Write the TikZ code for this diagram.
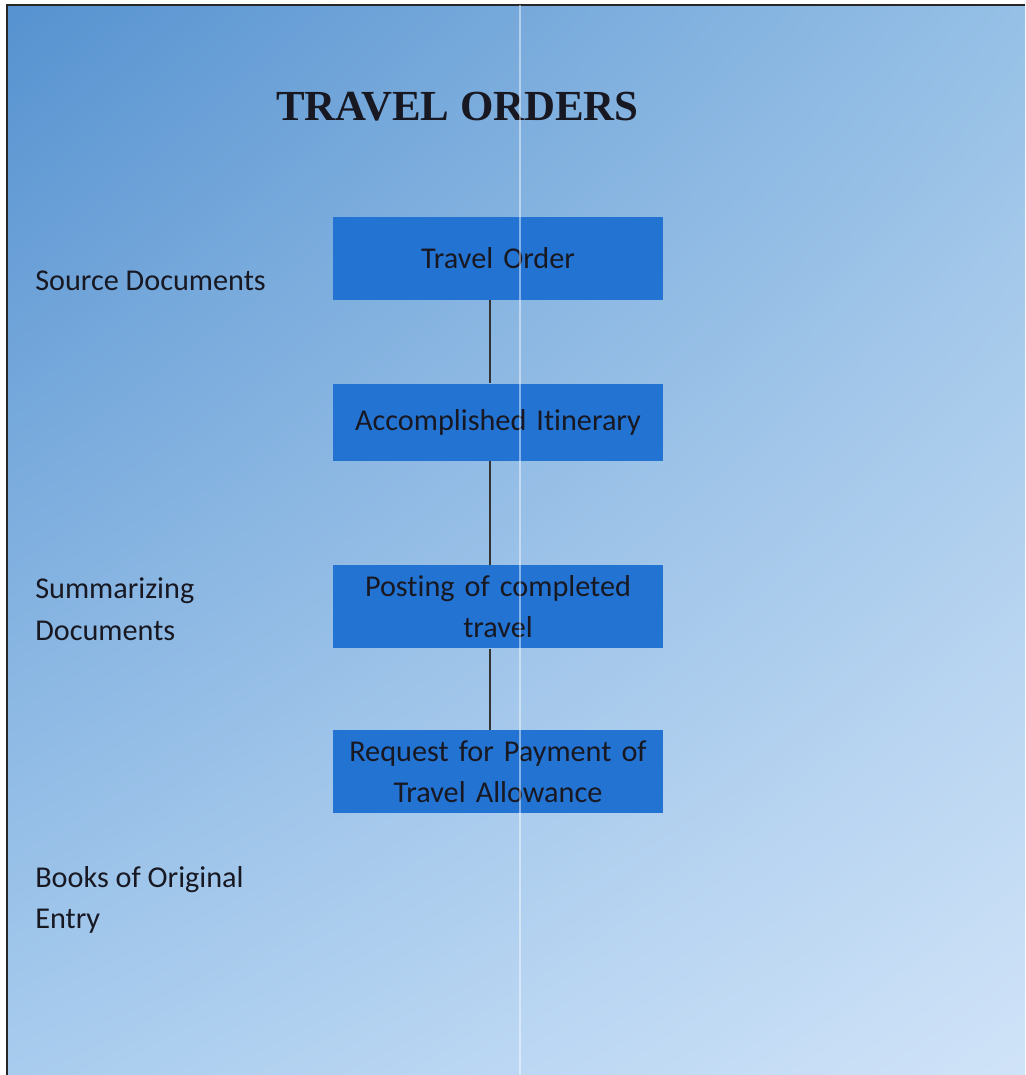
\documentclass[tikz,border=0pt]{standalone}
\usepackage{fontspec}
\setmainfont[Ligatures=NoCommon]{Carlito}
\newfontfamily\titlefont{Liberation Serif}
\usetikzlibrary{positioning, shadings}
\definecolor{boxblue}{RGB}{35,115,210}
\definecolor{inkdark}{RGB}{24,24,34}
\definecolor{bgtl}{RGB}{86,146,208}
\definecolor{bgtr}{RGB}{150,192,230}
\definecolor{bgbl}{RGB}{168,204,238}
\definecolor{bgbr}{RGB}{208,227,248}

\begin{document}
\begin{tikzpicture}[x=0.025cm, y=-0.025cm,
    box/.style={fill=boxblue, text=inkdark, minimum width=8.25cm, minimum height=2.08cm,
      text width=8cm, align=center, inner sep=0pt, font=\fontsize{21.5}{29.5}\selectfont},
    side/.style={anchor=west, align=left, text=inkdark, inner sep=0pt,
      font=\fontsize{21.5}{29.5}\selectfont},
    link/.style={draw=black!80, line width=0.9pt}]
  \useasboundingbox (0,0) rectangle (1025,1075);
  \fill[white] (0,0) rectangle (1025,1075);
  \shade[upper left=bgtl, upper right=bgtr, lower left=bgbl, lower right=bgbr]
    (7,5) rectangle (1025,1075);
  \draw[black!85, line width=1.4pt] (7,1075) -- (7,5) -- (1025,5);

  \node[font=\titlefont\bfseries\fontsize{30.5}{36}\selectfont, text=inkdark] (title) at (457.5,107) {TRAVEL ORDERS};

  \node[box, minimum height=2.075cm] (order) at (498,258.5) {Travel Order};
  \node[box, minimum height=1.925cm, below=2.075cm of order] (itinerary) {Accomplished Itinerary};
  \node[box, below=2.6cm of itinerary] (posting) {Posting of completed\\ travel};
  \node[box, below=2.025cm of posting] (request) {Request for Payment of\\ Travel Allowance};

  \node[side] (source) at (35,281) {Source Documents};
  \node[side] (summary) at (35,609) {Summarizing\\ Documents};
  \node[side] (books) at (35,900) {Books of Original\\ Entry};

  \draw[link] ([xshift=-0.2cm]order.south) -- ([xshift=-0.2cm]itinerary.north);
  \draw[link] ([xshift=-0.2cm]itinerary.south) -- ([xshift=-0.2cm]posting.north);
  \draw[link] ([xshift=-0.2cm]posting.south) -- ([xshift=-0.2cm]request.north);

  % light streak down the page
  \draw[white, opacity=0.45, line width=1.6pt] (520,5) -- (520,1075);
\end{tikzpicture}
\end{document}
